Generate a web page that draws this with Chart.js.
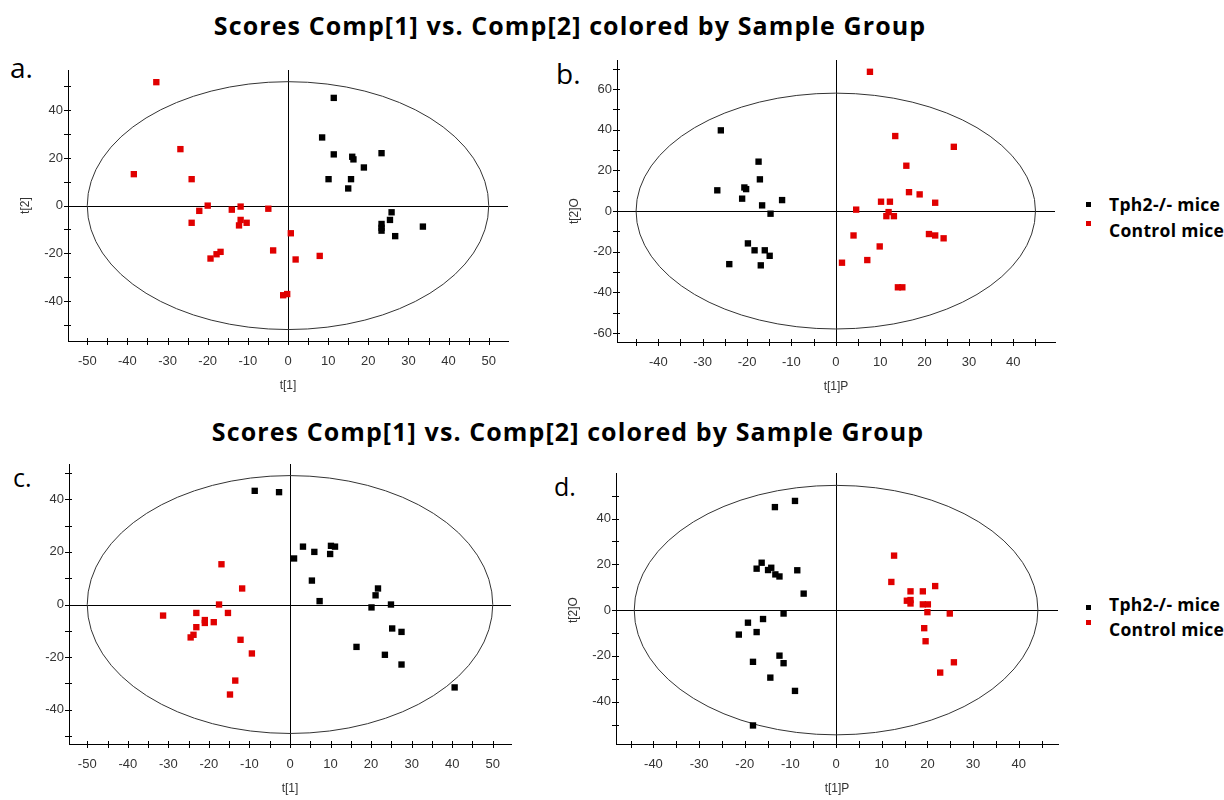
<!DOCTYPE html>
<html>
<head>
<meta charset="utf-8">
<script src="https://cdn.jsdelivr.net/npm/chart.js@4.4.1/dist/chart.umd.min.js"></script>
<style>
  body { margin: 0; width: 1224px; height: 800px; background: #fff; position: relative; overflow: hidden; font-family: "Open Sans", sans-serif; }
  .title { position: absolute; font-weight: bold; font-size: 25px; letter-spacing: 1.1px; line-height: 1; color: #000; transform: translate(-50%, -50%); white-space: nowrap; }
  .plabel { position: absolute; line-height: 1; color: #000; transform: translateY(-50%); }
  .panel { position: absolute; }
  .legend { position: absolute; font-weight: bold; font-size: 17.5px; letter-spacing: 0.3px; color: #000; }
  .legend div { position: absolute; white-space: nowrap; line-height: 1; transform: translateY(-50%); }
  .legend span { position: absolute; width: 5px; height: 5px; }
</style>
</head>
<body>

<div class="title" style="left:570px; top:25px;">Scores Comp[1] vs. Comp[2] colored by Sample Group</div>
<div class="title" style="left:568px; top:431px;">Scores Comp[1] vs. Comp[2] colored by Sample Group</div>

<div class="plabel" style="left:10px; top:67px; font-size:28px;">a.</div>
<div class="plabel" style="left:556px; top:73px; font-size:28px;">b.</div>
<div class="plabel" style="left:13px; top:477px; font-size:25px;">c.</div>
<div class="plabel" style="left:554px; top:486px; font-size:25px;">d.</div>

<div class="panel" id="wa"><canvas id="ca"></canvas></div>
<div class="panel" id="wb"><canvas id="cb"></canvas></div>
<div class="panel" id="wc"><canvas id="cc"></canvas></div>
<div class="panel" id="wd"><canvas id="cd"></canvas></div>

<div class="legend" style="left:1086px; top:0;">
  <span style="left:0; top:202px; background:#000;"></span>
  <div style="left:23px; top:205px;">Tph2-/- mice</div>
  <span style="left:0; top:221px; background:#e00000;"></span>
  <div style="left:23px; top:231px;">Control mice</div>
</div>
<div class="legend" style="left:1086px; top:0;">
  <span style="left:0; top:605px; background:#000;"></span>
  <div style="left:23px; top:605px;">Tph2-/- mice</div>
  <span style="left:0; top:620px; background:#e00000;"></span>
  <div style="left:23px; top:630px;">Control mice</div>
</div>

<script>
// ── Data ──────────────────────────────────────────────────────────────────
const SERIES = ['Tph2-/- mice', 'Control mice'];

// panel a : t[1] vs t[2]
const A_TPH = [[11.4,45.2],[8.5,28.6],[11.4,21.5],[16.0,20.5],[16.3,19.4],[18.9,16.0],[23.3,22.0],
  [10.1,11.1],[15.7,11.1],[15.0,7.2],[25.8,-2.8],[25.4,-6.0],[23.3,-7.7],[23.3,-9.3],[23.3,-10.5],
  [26.7,-12.8],[33.6,-8.8]];
const A_CTRL = [[-32.8,51.8],[-26.8,23.7],[-38.4,13.2],[-24.0,11.1],[-20.0,0],[-22.1,-2.2],[-24.0,-7.2],
  [-14.0,-1.7],[-11.8,-0.4],[-11.8,-6.0],[-10.3,-7.2],[-12.2,-8.3],[-4.9,-1.3],[-19.3,-22.2],
  [-17.8,-20.4],[-16.8,-19.4],[-3.7,-18.8],[0.7,-11.6],[1.9,-22.6],[7.9,-21.1],[-1.2,-37.6],[-0.2,-37.1]];

// panel b : t[1]P vs t[2]O
const B_TPH = [[-25.9,39.7],[-17.4,24.3],[-17.1,15.6],[-26.7,10.2],[-20.6,11.6],[-20.2,10.8],[-21.1,6.1],
  [-16.6,2.8],[-12.1,5.4],[-14.7,-1.3],[-19.8,-15.9],[-18.3,-19.3],[-16.0,-19.3],[-14.9,-22.0],
  [-24.0,-26.1],[-16.9,-26.7]];
const B_CTRL = [[7.7,68.5],[13.4,36.9],[26.6,31.6],[15.9,22.3],[16.5,9.3],[18.9,8.2],[10.2,4.6],[12.2,4.6],
  [22.4,4.1],[4.6,0.7],[11.9,-0.5],[11.4,-2.5],[13.1,-2.5],[4.0,-12.0],[21.0,-11.3],[22.4,-12.0],
  [24.3,-13.4],[9.9,-17.4],[1.4,-25.4],[7.1,-24.1],[14.0,-37.5],[15.0,-37.5]];

// panel c : t[1] vs t[2]
const C_TPH = [[-8.7,43.2],[-2.7,42.7],[1.0,17.5],[3.2,22.0],[6.0,20.0],[9.9,19.2],[10.1,22.3],[11.1,22.0],
  [5.4,9.1],[7.3,1.3],[21.7,6.1],[21.1,3.5],[20.1,-1.1],[24.9,0],[25.2,-9.1],[27.5,-10.4],[16.4,-16.1],
  [23.4,-19.1],[27.5,-22.8],[40.6,-31.5]];
const C_CTRL = [[-16.9,15.3],[-11.8,6.1],[-17.5,0],[-31.3,-4.2],[-23.1,-3.2],[-21.0,-5.9],[-21.0,-7.0],
  [-18.8,-6.7],[-15.3,-3.2],[-23.1,-8.6],[-23.8,-11.5],[-24.5,-12.5],[-12.2,-13.4],[-9.4,-18.6],
  [-13.5,-28.9],[-14.8,-34.2]];

// panel d : t[1]P vs t[2]O
const D_TPH = [[-9.0,47.7],[-13.4,45.0],[-16.3,20.7],[-17.4,18.1],[-14.2,18.5],[-14.9,17.5],[-13.3,15.6],
  [-12.4,14.7],[-8.5,17.4],[-7.1,7.2],[-11.5,-1.5],[-16.0,-3.9],[-19.3,-5.5],[-21.3,-10.7],[-17.4,-9.6],
  [-12.4,-19.9],[-11.5,-23.2],[-18.2,-22.6],[-14.4,-29.5],[-9.0,-35.3],[-18.2,-50.4]];
const D_CTRL = [[12.7,23.8],[12.1,12.3],[21.7,10.5],[16.3,8.2],[19.0,8.2],[15.5,4.1],[16.3,4.4],[16.3,2.9],
  [19.0,2.5],[20.1,2.5],[20.0,-0.9],[24.9,-1.5],[19.3,-7.9],[19.6,-13.6],[25.8,-22.8],[22.8,-27.3]];

// Hotelling T2 ellipse semi-axes [t1, t2] per panel
const ELLIPSES = { a: [50, 52], b: [45, 58], c: [50, 49], d: [44.2, 54.5] };
const X_TITLES = { a: 't[1]', b: 't[1]P', c: 't[1]', d: 't[1]P' };
const Y_TITLES = { a: 't[2]', b: 't[2]O', c: '', d: 't[2]O' };

// ── Layout per panel: plot area in page pixels + axis ranges ──────────────
const PANELS = [
  { key: 'a', tph: A_TPH, ctrl: A_CTRL, area: { l: 68,  t: 70,  r: 508,  b: 341 }, x: [-54.8, 54.8], y: [-56.8, 56.9] },
  { key: 'b', tph: B_TPH, ctrl: B_CTRL, area: { l: 617, t: 60,  r: 1055, b: 342 }, x: [-49.3, 49.4], y: [-64.4, 74.3] },
  { key: 'c', tph: C_TPH, ctrl: C_CTRL, area: { l: 69,  t: 464, r: 511,  b: 744 }, x: [-54.5, 54.5], y: [-53.0, 53.4] },
  { key: 'd', tph: D_TPH, ctrl: D_CTRL, area: { l: 616, t: 473, r: 1058, b: 744 }, x: [-48.2, 48.6], y: [-58.5, 59.9] },
];

const YW = 60, XH = 56, PT = 16, PR = 12;
const TICK_FONT = { family: 'Liberation Sans, Arial, sans-serif', size: 13 };

// ── Plugin: zero lines, ellipse, crossing tick marks, axis titles ────────
const decor = {
  id: 'decor',
  beforeDatasetsDraw(chart, args, o) {
    const { ctx, chartArea: a, scales: { x, y } } = chart;
    const cx = x.getPixelForValue(0), cy = y.getPixelForValue(0);
    ctx.save();
    ctx.lineWidth = 1;
    ctx.strokeStyle = '#000';
    ctx.beginPath();
    const vx = Math.round(cx) + 0.5, hy = Math.round(cy) + 0.5;
    ctx.moveTo(vx, a.top); ctx.lineTo(vx, a.bottom);
    ctx.moveTo(a.left, hy); ctx.lineTo(a.right, hy);
    ctx.stroke();

    ctx.strokeStyle = '#333';
    ctx.beginPath();
    ctx.ellipse(cx, cy, x.getPixelForValue(o.rx) - cx, cy - y.getPixelForValue(o.ry), 0, 0, Math.PI * 2);
    ctx.stroke();

    ctx.strokeStyle = '#000';
    ctx.beginPath();
    x.ticks.forEach(t => {
      const px = Math.round(x.getPixelForValue(t.value)) + 0.5;
      ctx.moveTo(px, a.bottom - 3); ctx.lineTo(px, a.bottom + 4);
    });
    y.ticks.forEach(t => {
      const py = Math.round(y.getPixelForValue(t.value)) + 0.5;
      ctx.moveTo(a.left - 4, py); ctx.lineTo(a.left + 3, py);
    });
    ctx.stroke();

    ctx.fillStyle = '#333';
    ctx.font = '12px "Liberation Sans", Arial, sans-serif';
    ctx.textAlign = 'center';
    ctx.textBaseline = 'middle';
    ctx.fillText(o.xTitle, (a.left + a.right) / 2, a.bottom + 45);
    if (o.yTitle) {
      ctx.translate(a.left - 42, cy);
      ctx.rotate(-Math.PI / 2);
      ctx.fillText(o.yTitle, 0, 0);
    }
    ctx.restore();
  }
};

function place(wrap, cv, left, top, w, h) {
  Object.assign(wrap.style, { left: left + 'px', top: top + 'px', width: w + 'px', height: h + 'px' });
  cv.style.width = w + 'px'; cv.style.height = h + 'px';
}

function makePanel(p) {
  let w = p.area.r - p.area.l + YW + PR;
  let h = p.area.b - p.area.t + PT + XH;
  let left = p.area.l - YW, top = p.area.t - PT;
  const wrap = document.getElementById('w' + p.key);
  const cv = document.getElementById('c' + p.key);
  cv.width = w; cv.height = h;
  place(wrap, cv, left, top, w, h);

  const pt = arr => arr.map(([x, y]) => ({ x, y }));
  const axisCommon = {
    type: 'linear',
    border: { display: true, color: '#000', width: 1 },
    grid: { display: false, drawTicks: false },
  };

  const chart = new Chart(cv.getContext('2d'), {
    type: 'scatter',
    data: {
      datasets: [
        { label: SERIES[0], data: pt(p.tph), backgroundColor: '#000', borderColor: '#000', borderWidth: 0, pointStyle: 'rect', pointRadius: 4.5 },
        { label: SERIES[1], data: pt(p.ctrl), backgroundColor: '#e00000', borderColor: '#e00000', borderWidth: 0, pointStyle: 'rect', pointRadius: 4.5 },
      ]
    },
    options: {
      responsive: false,
      maintainAspectRatio: false,
      animation: false,
      layout: { padding: { top: PT, right: PR, left: 0, bottom: 0 } },
      plugins: {
        legend: { display: false },
        tooltip: { enabled: false },
        decor: { rx: ELLIPSES[p.key][0], ry: ELLIPSES[p.key][1], xTitle: X_TITLES[p.key], yTitle: Y_TITLES[p.key] },
      },
      scales: {
        x: Object.assign({}, axisCommon, {
          min: p.x[0], max: p.x[1],
          afterFit: s => { s.height = XH; },
          ticks: { stepSize: 5, includeBounds: false, autoSkip: false, maxRotation: 0, padding: 13, color: '#333', font: TICK_FONT,
                   callback: v => (Math.round(v) % 10 === 0 ? String(v) : '') },
        }),
        y: Object.assign({}, axisCommon, {
          min: p.y[0], max: p.y[1],
          afterFit: s => { s.width = YW; },
          ticks: { stepSize: 10, includeBounds: false, autoSkip: false, padding: 5, color: '#333', font: TICK_FONT,
                   callback: v => (Math.round(v) % 20 === 0 ? String(v) : '') },
        }),
      }
    },
    plugins: [decor]
  });

  // nudge the canvas so the plot area lands on the wanted page pixels
  for (let i = 0; i < 3; i++) {
    const ca = chart.chartArea;
    const dL = Math.round(ca.left - (p.area.l - left)), dT = Math.round(ca.top - (p.area.t - top));
    const dR = Math.round((p.area.r - left) - ca.right), dB = Math.round((p.area.b - top) - ca.bottom);
    if (!dL && !dT && !dR && !dB) break;
    left -= dL; top -= dT; w += dL + dR; h += dT + dB;
    place(wrap, cv, left, top, w, h);
    chart.resize(w, h);
  }
}

PANELS.forEach(makePanel);
</script>
</body>
</html>
